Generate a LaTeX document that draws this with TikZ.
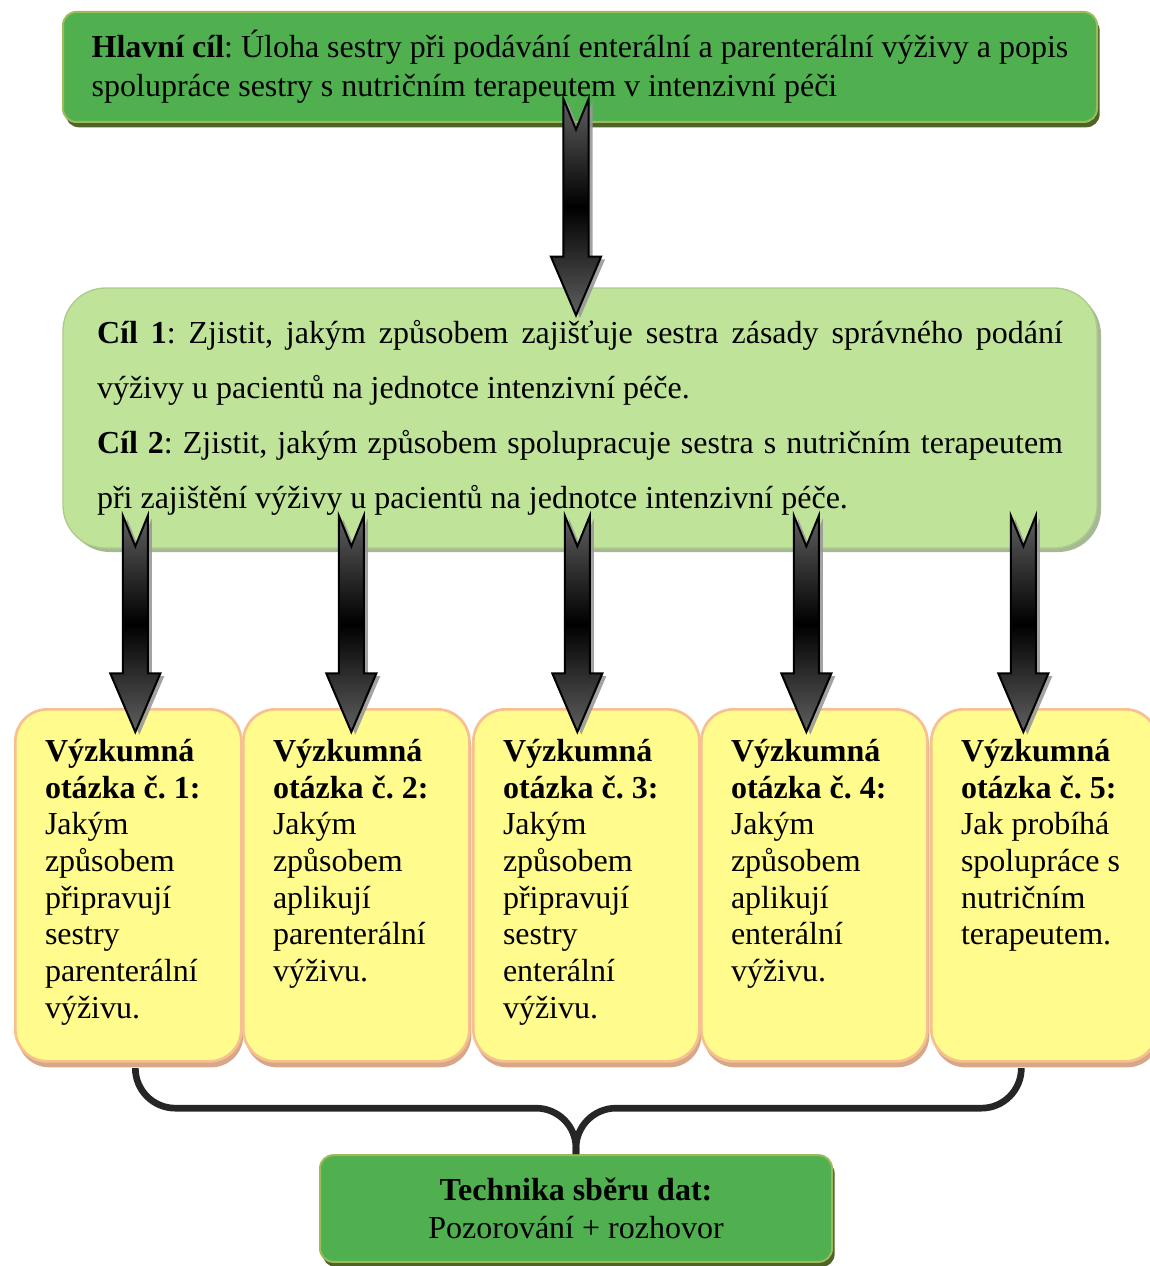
\documentclass[tikz,border=0pt]{standalone}
\usepackage{fontspec}
\setmainfont{Liberation Serif}
\usetikzlibrary{shadows,calc}

\definecolor{boxgreen}{HTML}{50B050}
\definecolor{boxgreenline}{HTML}{9BBB59}
\definecolor{boxgreenshadow}{HTML}{4F6228}
\definecolor{goalfill}{HTML}{C0E39A}
\definecolor{goalshadow}{HTML}{A6B894}
\definecolor{qfill}{HTML}{FFFB8C}
\definecolor{qline}{HTML}{F8C090}
\definecolor{qshadow}{HTML}{D6A889}
\definecolor{linkgray}{HTML}{262626}

\tikzset{
  mainbox/.style={draw=boxgreenline, line width=1.5pt, fill=boxgreen, rounded corners=10pt,
    drop shadow={shadow xshift=2pt, shadow yshift=-4pt, fill=boxgreenshadow, opacity=1}},
  goalbox/.style={draw=goalfill!90!black, line width=1pt, fill=goalfill, rounded corners=32pt,
    drop shadow={shadow xshift=3pt, shadow yshift=-3pt, fill=goalshadow, opacity=1}},
  qbox/.style={draw=qline, line width=2pt, fill=qfill, rounded corners=24pt, anchor=north west,
    inner xsep=22.25pt, inner ysep=22.5pt, font=\fontsize{24}{27.5}\selectfont,
    drop shadow={shadow xshift=1.5pt, shadow yshift=-4.5pt, fill=qshadow, opacity=1}},
  fatarrowstyle/.style={draw=black, line width=1.5pt, top color=gray!75!black,
    bottom color=gray!75!black, middle color=black,
    drop shadow={shadow xshift=3pt, shadow yshift=-2pt, fill=gray!80, opacity=.9}},
  bracelink/.style={draw=linkgray, line width=5pt, rounded corners=30pt}
}

% question box contents
\newcommand{\vq}[2]{\parbox[t][219pt][t]{125pt}{\textbf{Výzkumná\\ otázka č.~#1:}\\ #2}}

% notched block arrow from tail (#1) down to tip (#2)
\newcommand{\fatarrow}[2]{%
  \path[fatarrowstyle] let \p1=(#1), \p2=(#2) in
    ({\x1-9.4pt},\y1) -- (\x1,{\y1-23pt}) -- ({\x1+9.4pt},\y1) -- ({\x1+9.4pt},{\y2+44pt})
    -- ({\x1+18.8pt},{\y2+44pt}) -- (\x1,\y2) -- ({\x1-18.8pt},{\y2+44pt})
    -- ({\x1-9.4pt},{\y2+44pt}) -- cycle;}

\begin{document}
\frenchspacing
\begin{tikzpicture}[x=0.75pt,y=-0.75pt]
    \useasboundingbox (0,0) rectangle (1149,1266);

    % Main aim
    \node[mainbox, minimum width=775.5pt, minimum height=82.5pt, align=left,
      font=\fontsize{24}{29.25}\selectfont] (main) at (580,67)
      {\textbf{Hlavní cíl}: Úloha sestry při podávání enterální a parenterální výživy a popis\\
       spolupráce sestry s nutričním terapeutem v intenzivní péči};

    % Partial aims
    \node[goalbox, minimum height=195pt, text width=724.5pt, inner xsep=25.5pt, align=justify,
      font=\fontsize{24}{41.25}\selectfont] (goals) at (580,418)
      {\textbf{Cíl 1}: Zjistit, jakým způsobem zajišťuje sestra zásady správného podání výživy u pacientů na jednotce intenzivní péče.\par
       \textbf{Cíl 2}: Zjistit, jakým způsobem spolupracuje sestra s nutričním terapeutem při zajištění výživy u pacientů na jednotce intenzivní péče.};

    % Research questions
    \node[qbox] (q1) at (14,708) {\vq{1}{Jakým\\ způsobem\\ připravují\\ sestry\\ parenterální\\ výživu.}};
    \node[qbox] (q2) at (242,708) {\vq{2}{Jakým\\ způsobem\\ aplikují\\ parenterální\\ výživu.}};
    \node[qbox] (q3) at (472,708) {\vq{3}{Jakým\\ způsobem\\ připravují\\ sestry\\ enterální\\ výživu.}};
    \node[qbox] (q4) at (700,708) {\vq{4}{Jakým\\ způsobem\\ aplikují\\ enterální\\ výživu.}};
    \node[qbox] (q5) at (930,708) {\vq{5}{Jak probíhá\\ spolupráce s\\ nutričním\\ terapeutem.}};

    % Data collection
    \node[mainbox, minimum width=384pt, minimum height=80pt, align=center,
      font=\fontsize{24}{28.5}\selectfont] (tech) at (576,1208.5)
      {\textbf{Technika sběru dat:}\\ Pozorování + rozhovor};

    % Arrows
    \fatarrow{$(main.south)+(-4,-24)$}{$(goals.north)+(-4,28)$}
    \fatarrow{$(goals.south -| q1.north)+(7,-33)$}{$(q1.north)+(7,24)$}
    \fatarrow{$(goals.south -| q2.north)+(-5,-33)$}{$(q2.north)+(-5,24)$}
    \fatarrow{$(goals.south -| q3.north)+(-9,-33)$}{$(q3.north)+(-9,24)$}
    \fatarrow{$(goals.south -| q4.north)+(-8,-33)$}{$(q4.north)+(-8,24)$}
    \fatarrow{$(goals.south -| q5.north)+(-21,-33)$}{$(q5.north)+(-21,24)$}

    % Brace to data collection
    \coordinate (bend) at ($(tech.north)+(0,-46)$);
    \draw[bracelink] ($(q1.south)+(7,6)$) |- (bend) -- (tech.north);
    \draw[bracelink] ($(q5.south)+(-23,6)$) |- (bend) -- (tech.north);
\end{tikzpicture}
\end{document}
